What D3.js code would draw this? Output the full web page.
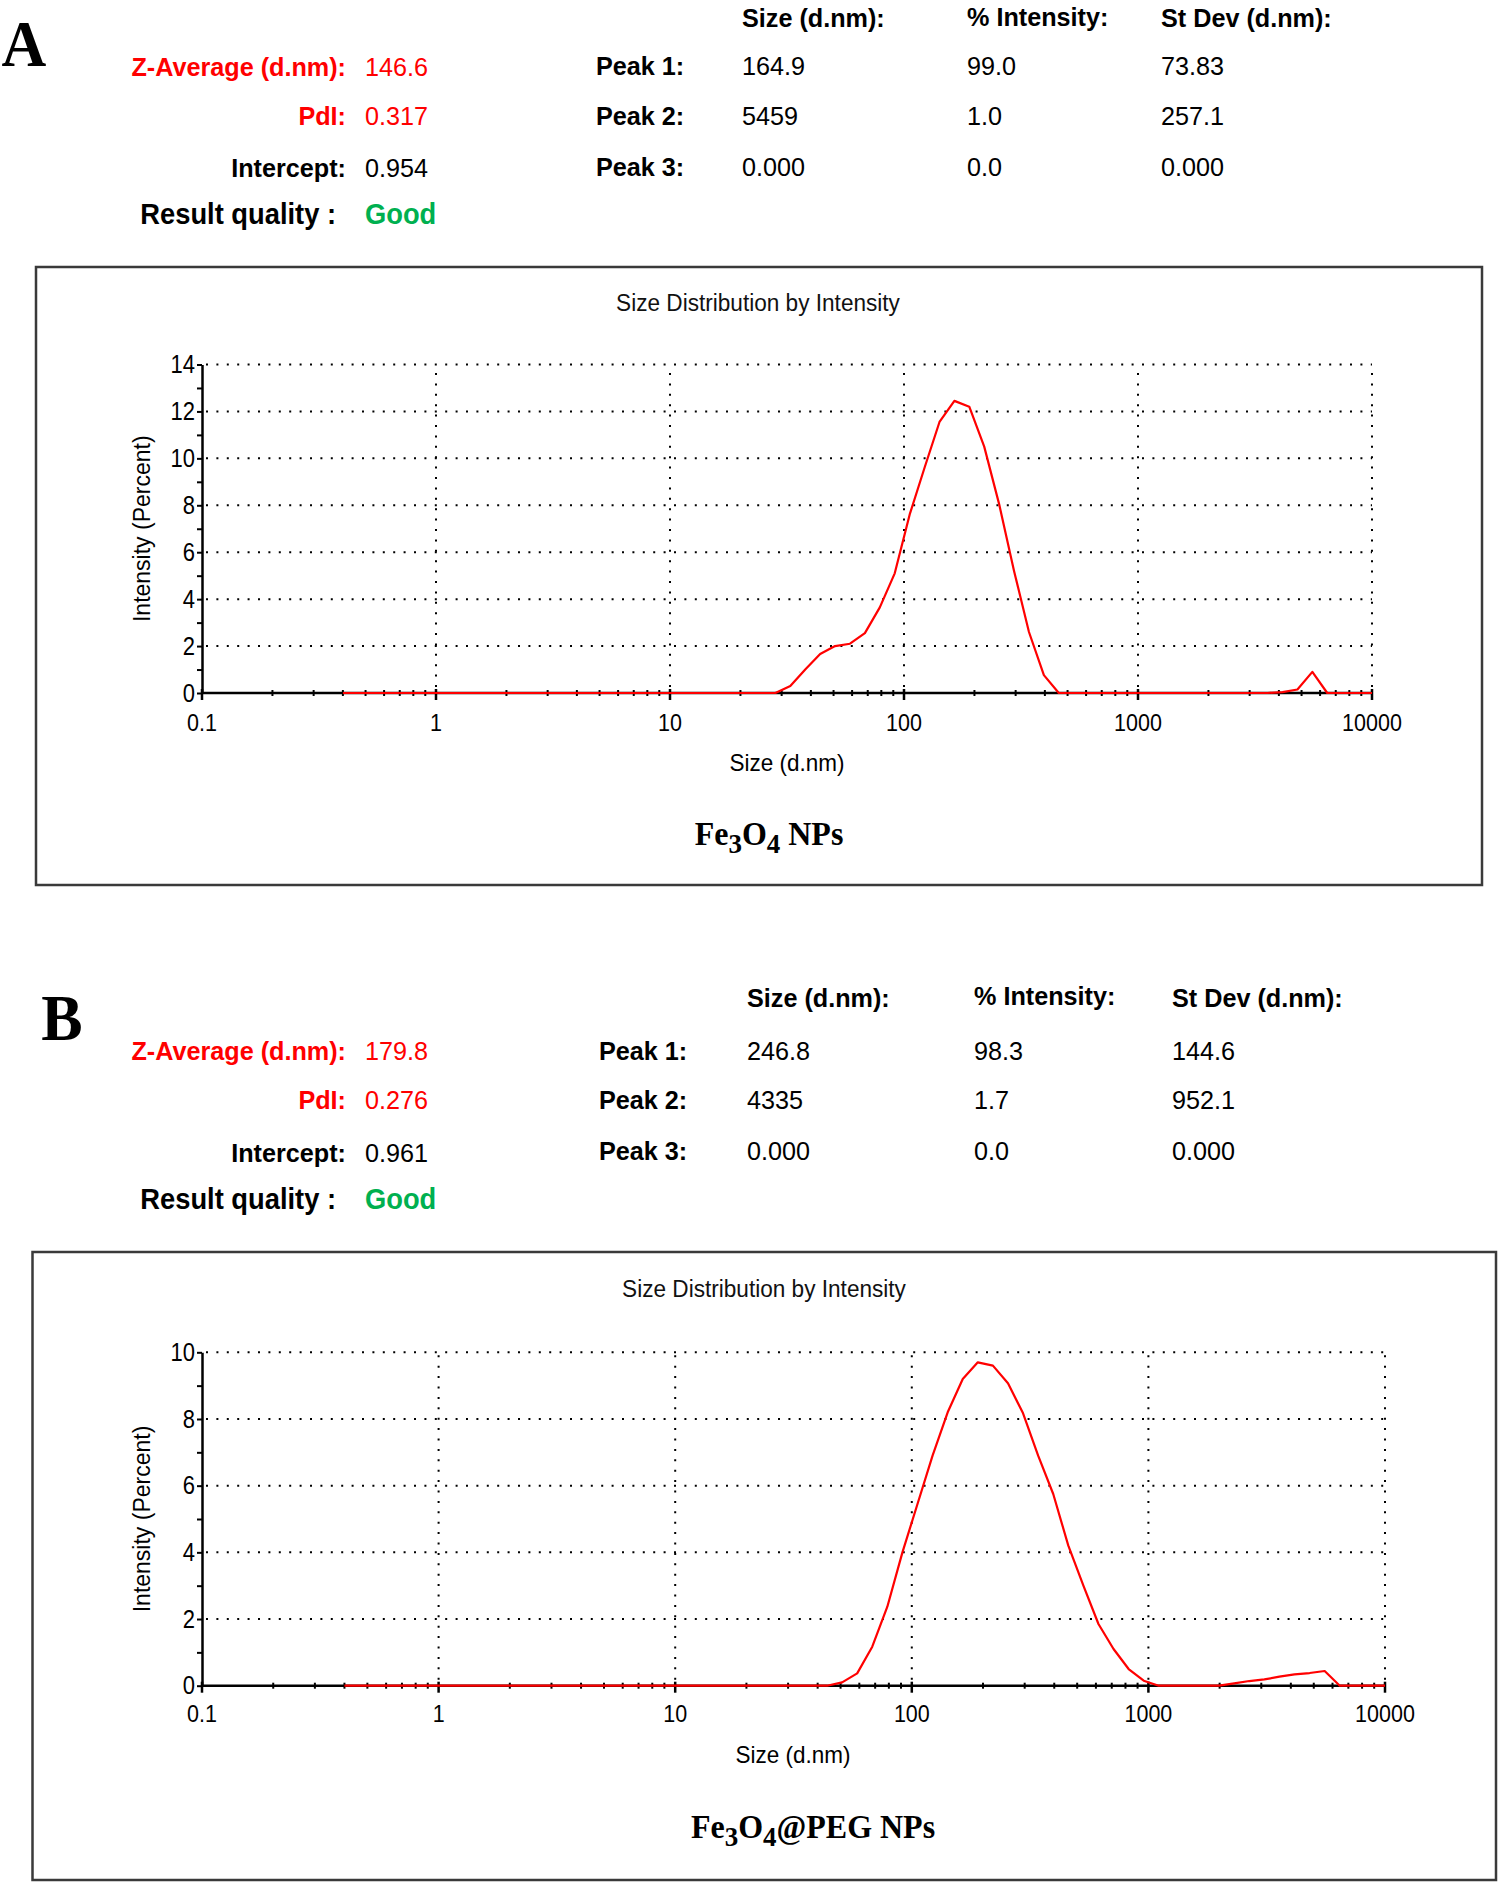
<!DOCTYPE html>
<html>
<head>
<meta charset="utf-8">
<script src="https://cdn.jsdelivr.net/npm/d3@7"></script>
<style>
  html, body { margin: 0; padding: 0; background: #fff; }
  svg { display: block; }
</style>
</head>
<body>
<svg id="chart" width="1499" height="1884"></svg>
<script>
// ---------------- DATA ----------------
// Malvern size classes (d.nm)
const sizeBins = [0.4, 0.4632, 0.5365, 0.6213, 0.7195, 0.8332, 0.9649, 1.117, 1.294, 1.499,
  1.736, 2.01, 2.328, 2.696, 3.122, 3.615, 4.187, 4.849, 5.615, 6.503,
  7.531, 8.721, 10.1, 11.7, 13.54, 15.69, 18.17, 21.04, 24.36, 28.21,
  32.67, 37.84, 43.82, 50.75, 58.77, 68.06, 78.82, 91.28, 105.7, 122.4,
  141.8, 164.2, 190.1, 220.2, 255.0, 295.3, 342.0, 396.1, 458.7, 531.2,
  615.1, 712.4, 825.0, 955.4, 1106, 1281, 1484, 1718, 1990, 2305,
  2669, 3091, 3580, 4145, 4801, 5560, 6439, 7456, 8635, 10000];

// Panel A: Fe3O4 NPs, intensity (%) per size class
const intensityA = [0, 0, 0, 0, 0, 0, 0, 0, 0, 0,
  0, 0, 0, 0, 0, 0, 0, 0, 0, 0,
  0, 0, 0, 0, 0, 0, 0, 0, 0, 0,
  0.3, 1.0, 1.66, 2.0, 2.1, 2.55, 3.65, 5.1, 7.6, 9.6,
  11.55, 12.45, 12.2, 10.5, 8.05, 5.2, 2.6, 0.76, 0, 0,
  0, 0, 0, 0, 0, 0, 0, 0, 0, 0,
  0, 0, 0, 0.04, 0.15, 0.9, 0, 0, 0, 0];

// Panel B: Fe3O4@PEG NPs
const intensityB = [0, 0, 0, 0, 0, 0, 0, 0, 0, 0,
  0, 0, 0, 0, 0, 0, 0, 0, 0, 0,
  0, 0, 0, 0, 0, 0, 0, 0, 0, 0,
  0, 0, 0, 0.1, 0.37, 1.17, 2.37, 4.0, 5.45, 6.9,
  8.2, 9.2, 9.7, 9.6, 9.07, 8.17, 6.9, 5.75, 4.2, 3.0,
  1.85, 1.1, 0.5, 0.15, 0, 0, 0, 0, 0, 0.07,
  0.14, 0.19, 0.27, 0.34, 0.38, 0.44, 0, 0, 0, 0];

const xTickValues = [0.1, 1, 10, 100, 1000, 10000];
const xTickLabels = ["0.1", "1", "10", "100", "1000", "10000"];
const yTicksA = [0, 2, 4, 6, 8, 10, 12, 14];
const yTicksB = [0, 2, 4, 6, 8, 10];

const summaryLabels = ["Z-Average (d.nm):", "PdI:", "Intercept:", "Result quality :"];
const summaryA = ["146.6", "0.317", "0.954", "Good"];
const summaryB = ["179.8", "0.276", "0.961", "Good"];
const peakHeaders = ["Size (d.nm):", "% Intensity:", "St Dev (d.nm):"];
const peakLabels = ["Peak 1:", "Peak 2:", "Peak 3:"];
const peaksA = [["164.9", "99.0", "73.83"], ["5459", "1.0", "257.1"], ["0.000", "0.0", "0.000"]];
const peaksB = [["246.8", "98.3", "144.6"], ["4335", "1.7", "952.1"], ["0.000", "0.0", "0.000"]];

// ---------------- DRAW ----------------
const svg = d3.select("#chart");
const SANS = "'Liberation Sans', Arial, sans-serif";
const SERIF = "'Liberation Serif', 'Times New Roman', serif";
const RED = "#ff0000", GREEN = "#00b050";
const HS = 25.2; // header font size

// text helper with slight vertical stretch (the source image is a bit tall)
function txt(parent, x, y, s, opts) {
  const k = opts.k || 1;
  const t = parent.append("text")
    .attr("transform", `translate(${x},${y}) scale(1,${k})`)
    .attr("font-family", opts.family || SANS)
    .attr("font-size", opts.size)
    .attr("font-weight", opts.bold ? "bold" : "normal")
    .attr("fill", opts.fill || "#000")
    .attr("text-anchor", opts.anchor || "start");
  if (s !== null) t.text(s);
  return t;
}

function header(cfg) {
  const g = svg.append("g");
  txt(g, cfg.letterX, cfg.letterY, cfg.letter, {family: SERIF, bold: true, size: 62, anchor: "middle", k: 1.05});

  summaryLabels.forEach((lab, i) => {
    const isQ = i === 3;
    const col = i < 2 ? RED : "#000";
    txt(g, isQ ? cfg.labRight - 10 : cfg.labRight, cfg.sumY[i], lab,
      {anchor: "end", bold: true, size: isQ ? 27.3 : HS, fill: col, k: 1.05});
    txt(g, cfg.valX, cfg.sumY[i], cfg.summary[i],
      {bold: isQ, size: isQ ? 27.3 : HS, fill: isQ ? GREEN : col, k: 1.05});
  });

  peakHeaders.forEach((h, j) => {
    txt(g, cfg.colX[j], cfg.headY[j], h, {bold: true, size: HS, k: 1.05});
  });
  peakLabels.forEach((p, i) => {
    txt(g, cfg.peakLabX, cfg.peakY[i], p, {bold: true, size: HS, k: 1.05});
    cfg.peaks[i].forEach((v, j) => {
      txt(g, cfg.colX[j], cfg.peakY[i], v, {size: HS, k: 1.05});
    });
  });
}

function panel(cfg) {
  const g = svg.append("g");
  // frame
  g.append("rect").attr("x", cfg.frame[0]).attr("y", cfg.frame[1])
    .attr("width", cfg.frame[2] - cfg.frame[0]).attr("height", cfg.frame[3] - cfg.frame[1])
    .attr("fill", "none").attr("stroke", "#3a3a3a").attr("stroke-width", 2.5);

  const x = d3.scaleLog().domain([0.1, 10000]).range([cfg.x0, cfg.x1]);
  const y = d3.scaleLinear().domain([0, cfg.yMax]).range([cfg.y0, cfg.y1]);

  // title
  txt(g, cfg.titleX, cfg.titleY, "Size Distribution by Intensity",
    {anchor: "middle", size: 22.6, fill: "#111", k: 1.08});

  // dotted grid
  const grid = g.append("g").attr("stroke", "#000").attr("stroke-width", 2)
    .attr("stroke-dasharray", "2,8.4");
  cfg.yTicks.filter(v => v > 0).forEach(v => {
    grid.append("line").attr("x1", x(0.1) + 4).attr("x2", x(10000))
      .attr("y1", y(v)).attr("y2", y(v));
  });
  xTickValues.filter(v => v > 0.1).forEach(v => {
    grid.append("line").attr("x1", x(v)).attr("x2", x(v))
      .attr("y1", y(0) - 6).attr("y2", y(cfg.yMax));
  });

  // y axis
  const yInts = d3.range(0, cfg.yMax + 1);
  const yAxis = d3.axisLeft(y).tickValues(yInts).tickSize(5).tickSizeOuter(0)
    .tickFormat("");
  const ya = g.append("g").attr("transform", `translate(${cfg.x0},0)`).call(yAxis);
  ya.select(".domain").attr("stroke", "#000").attr("stroke-width", 2.5);
  ya.selectAll(".tick line").attr("stroke", "#000").attr("stroke-width", 2);
  cfg.yTicks.forEach(v => {
    txt(g, cfg.x0 - 7, y(v) + 8.6, String(v), {anchor: "end", size: 22, k: 1.15});
  });

  // x axis line
  g.append("line").attr("x1", x(0.1)).attr("x2", x(10000)).attr("y1", y(0)).attr("y2", y(0))
    .attr("stroke", "#000").attr("stroke-width", 2.5);
  // minor ticks
  const minor = [];
  [0.1, 1, 10, 100, 1000].forEach(d => { for (let k = 2; k <= 9; k++) minor.push(d * k); });
  g.selectAll(".minor").data(minor).enter().append("line")
    .attr("x1", d => x(d)).attr("x2", d => x(d))
    .attr("y1", y(0) - 3).attr("y2", y(0) + 3)
    .attr("stroke", "#000").attr("stroke-width", 2);
  g.selectAll(".major").data(xTickValues).enter().append("line")
    .attr("x1", d => x(d)).attr("x2", d => x(d))
    .attr("y1", y(0) - 4).attr("y2", y(0) + 7)
    .attr("stroke", "#000").attr("stroke-width", 2.5);
  xTickValues.forEach((d, i) => {
    txt(g, x(d), cfg.xLabY, xTickLabels[i], {anchor: "middle", size: 21.5, k: 1.15});
  });

  // axis titles
  txt(g, cfg.xTitleX, cfg.xTitleY, "Size (d.nm)", {anchor: "middle", size: 22.5, k: 1.08});
  g.append("text").attr("transform", `translate(${cfg.yTitleX},${(cfg.y0 + cfg.y1) / 2}) rotate(-90) scale(1,1.05)`)
    .attr("text-anchor", "middle").attr("font-family", SANS).attr("font-size", 23)
    .text("Intensity (Percent)");

  // data line
  const line = d3.line().x(d => x(d[0])).y(d => y(d[1]));
  const pts = sizeBins.map((s, i) => [s, cfg.values[i]]);
  g.append("path").datum(pts).attr("d", line)
    .attr("fill", "none").attr("stroke", RED).attr("stroke-width", 2.2)
    .attr("stroke-linejoin", "round");

  // sample name
  const t = txt(g, cfg.nameX, cfg.nameY, null, {anchor: "middle", family: SERIF, bold: true, size: 32, k: 1.05});
  cfg.nameParts.forEach(p => {
    if (p.sub) {
      t.append("tspan").attr("font-size", 27).attr("dy", 8).text(p.t);
    } else {
      t.append("tspan").attr("dy", p.back ? -8 : 0).text(p.t);
    }
  });
}

header({
  letter: "A", letterX: 24, letterY: 66,
  labRight: 346, valX: 365, sumY: [76, 125, 177, 224], summary: summaryA,
  colX: [742, 967, 1161], headY: [27, 26, 27],
  peakLabX: 596, peakY: [75, 125, 176], peaks: peaksA
});
panel({
  frame: [36, 267, 1482, 885],
  x0: 202, x1: 1372, y0: 693, y1: 364.5, yMax: 14, yTicks: yTicksA,
  values: intensityA,
  titleX: 758, titleY: 311, xLabY: 731, xTitleX: 787, xTitleY: 771, yTitleX: 150,
  nameX: 769, nameY: 845,
  nameParts: [{t: "Fe"}, {t: "3", sub: true}, {t: "O", back: true}, {t: "4", sub: true}, {t: " NPs", back: true}]
});

header({
  letter: "B", letterX: 62, letterY: 1040,
  labRight: 346, valX: 365, sumY: [1060, 1109, 1162, 1209], summary: summaryB,
  colX: [747, 974, 1172], headY: [1007, 1005, 1007],
  peakLabX: 599, peakY: [1060, 1109, 1160], peaks: peaksB
});
panel({
  frame: [32.5, 1252, 1496, 1880],
  x0: 202, x1: 1385, y0: 1685.7, y1: 1352.3, yMax: 10, yTicks: yTicksB,
  values: intensityB,
  titleX: 764, titleY: 1297, xLabY: 1722, xTitleX: 793, xTitleY: 1763, yTitleX: 150,
  nameX: 813, nameY: 1838,
  nameParts: [{t: "Fe"}, {t: "3", sub: true}, {t: "O", back: true}, {t: "4", sub: true}, {t: "@PEG NPs", back: true}]
});
</script>
</body>
</html>
